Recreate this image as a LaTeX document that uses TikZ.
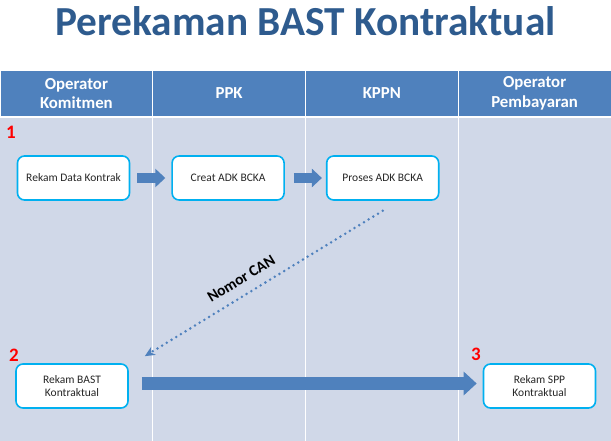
\documentclass[tikz,border=0pt]{standalone}
\usepackage{fontspec}
\setmainfont{Carlito}
\usepackage{xcolor}
\definecolor{hdr}{HTML}{4F81BD}
\definecolor{lane}{HTML}{D0D8E8}
\definecolor{ttl}{HTML}{2E5B8E}
\definecolor{rim}{HTML}{00B0F0}
\definecolor{txt}{HTML}{262626}
\usepackage{tikz}
\usetikzlibrary{arrows.meta,positioning}
\tikzset{
  box/.style={draw=rim,line width=1.6pt,rounded corners=7pt,fill=white,minimum width=112pt,minimum height=44pt,
    inner sep=2pt,align=center,text=txt,font=\fontsize{11.5}{13.5}\selectfont},
  hcell/.style={fill=hdr,draw=white,line width=0.8pt,minimum width=152.75pt,minimum height=47pt,inner sep=0pt,outer sep=0pt,
    align=center,text=white,font=\fontsize{16.8}{19.5}\selectfont\bfseries},
  num/.style={text=red,font=\fontsize{19}{20}\selectfont\bfseries,inner sep=0pt},
  lanesep/.style={draw=white,line width=0.8pt},
  blk/.style={-{Triangle[length=10pt,width=18pt]},draw=hdr,line width=10pt},
  dotarr/.style={-{Stealth[length=10pt,width=9pt,inset=3pt]},draw=hdr,line width=2.8pt,line cap=round,dash pattern=on 0pt off 5.5pt},
}
\begin{document}
\begin{tikzpicture}[x=1pt,y=-1pt,node distance=41pt]
\useasboundingbox (0,0) rectangle (611,441);
\fill[lane] (0,117) rectangle (611,441);
\node[text=ttl,font=\fontsize{41.3}{44}\selectfont\bfseries] (ttl) at (305.5,21) {Perekaman BAST Kontraktual};
\node[hcell] (h1) at (76.375,93.5) {Operator\\Komitmen};
\node[hcell,right=0pt of h1] (h2) {PPK};
\node[hcell,right=0pt of h2] (h3) {KPPN};
\node[hcell,right=0pt of h3] (h4) {Operator\\Pembayaran};
\draw[lanesep,line width=1.6pt] (h1.south west) -- (h4.south east);
\draw[lanesep] (h1.south east) -- (h1.south east |- 0,441);
\draw[lanesep] (h2.south east) -- (h2.south east |- 0,441);
\draw[lanesep] (h3.south east) -- (h3.south east |- 0,441);
\node[box] (rdk) at (73.5,178) {Rekam Data Kontrak};
\node[box,right=of rdk] (adk) {Creat ADK BCKA};
\node[box,right=of adk] (pab) {Proses ADK BCKA};
\node[box] (bast) at (72,386) {Rekam BAST\\Kontraktual};
\node[box] (spp) at (539.5,386) {Rekam SPP\\Kontraktual};
\node[num] (n1) at (11,132) {1};
\node[num] (n2) at (14,355) {2};
\node[num] (n3) at (476,354) {3};
\draw[blk,shorten <=7pt,shorten >=6pt] (rdk) -- (adk);
\draw[blk,shorten <=9pt,shorten >=4pt] (adk) -- (pab);
\draw[blk,line width=13pt,-{Triangle[length=13pt,width=23pt]},shorten <=13pt,shorten >=6pt]
  ([yshift=2.5pt]bast.east) -- ([yshift=2.5pt]spp.west);
\draw[dotarr] ([yshift=-10pt]pab.south) -- ([xshift=16pt,yshift=7pt]bast.north east)
  node[pos=0.56,sloped,above=6pt,text=black,font=\fontsize{15.5}{17}\selectfont\bfseries] (can) {Nomor CAN};
\end{tikzpicture}
\end{document}
